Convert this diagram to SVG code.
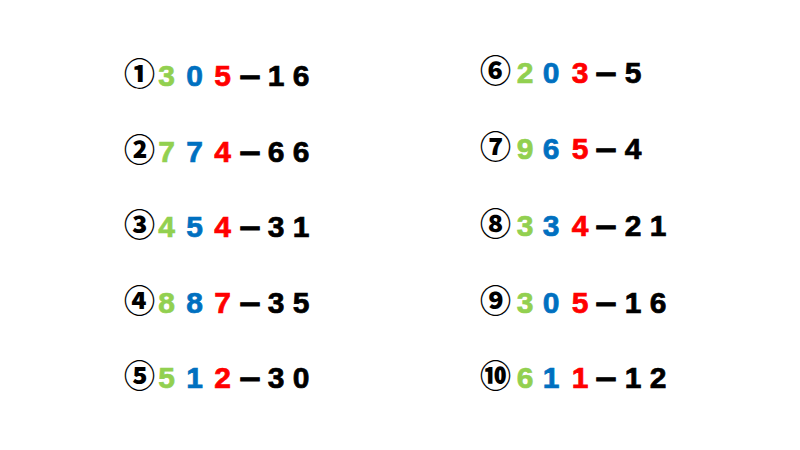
<svg xmlns="http://www.w3.org/2000/svg" width="800" height="450" viewBox="0 0 800 450">
<style>
text{font-family:"Liberation Sans","Noto Sans CJK JP",sans-serif;font-weight:bold;font-size:30px;text-anchor:middle;stroke-width:0.7px}
.c{font-family:"Noto Sans CJK JP",sans-serif;font-weight:900;font-size:31px;fill:#000;stroke:none}
.d{font-family:"Noto Sans CJK JP",sans-serif;font-weight:900;font-size:27px;fill:#000;stroke:#000;stroke-width:0.8px}
.g{fill:#92D050;stroke:#92D050}.b{fill:#0070C0;stroke:#0070C0}.r{fill:#FF0000;stroke:#FF0000}.k{fill:#000;stroke:#000}
</style>
<rect width="800" height="450" fill="#fff"/>
<g id="row1">
<text class="c" x="139.5" y="85">①</text><text class="g" x="166.5" y="86">3</text><text class="b" x="194.5" y="86">0</text><text class="r" x="222.5" y="86">5</text><text class="d" x="250" y="88">－</text><text class="k" x="276" y="86">1</text><text class="k" x="301" y="86">6</text>
</g>
<g id="row2">
<text class="c" x="139.5" y="161">②</text><text class="g" x="166.5" y="162">7</text><text class="b" x="194.5" y="162">7</text><text class="r" x="222.5" y="162">4</text><text class="d" x="250" y="164">－</text><text class="k" x="276" y="162">6</text><text class="k" x="301" y="162">6</text>
</g>
<g id="row3">
<text class="c" x="139.5" y="236">③</text><text class="g" x="166.5" y="237">4</text><text class="b" x="194.5" y="237">5</text><text class="r" x="222.5" y="237">4</text><text class="d" x="250" y="239">－</text><text class="k" x="276" y="237">3</text><text class="k" x="301" y="237">1</text>
</g>
<g id="row4">
<text class="c" x="139.5" y="312">④</text><text class="g" x="166.5" y="313">8</text><text class="b" x="194.5" y="313">8</text><text class="r" x="222.5" y="313">7</text><text class="d" x="250" y="315">－</text><text class="k" x="276" y="313">3</text><text class="k" x="301" y="313">5</text>
</g>
<g id="row5">
<text class="c" x="139.5" y="387">⑤</text><text class="g" x="166.5" y="388">5</text><text class="b" x="194.5" y="388">1</text><text class="r" x="222.5" y="388">2</text><text class="d" x="250" y="390">－</text><text class="k" x="276" y="388">3</text><text class="k" x="301" y="388">0</text>
</g>
<g id="row6">
<text class="c" x="495.5" y="82">⑥</text><text class="g" x="525" y="83">2</text><text class="b" x="551" y="83">0</text><text class="r" x="580" y="83">3</text><text class="d" x="606" y="85">－</text><text class="k" x="633" y="83">5</text>
</g>
<g id="row7">
<text class="c" x="495.5" y="158">⑦</text><text class="g" x="525" y="159">9</text><text class="b" x="551" y="159">6</text><text class="r" x="580" y="159">5</text><text class="d" x="606" y="161">－</text><text class="k" x="633" y="159">4</text>
</g>
<g id="row8">
<text class="c" x="495.5" y="235">⑧</text><text class="g" x="525" y="236">3</text><text class="b" x="551" y="236">3</text><text class="r" x="580" y="236">4</text><text class="d" x="606" y="238">－</text><text class="k" x="633" y="236">2</text><text class="k" x="658" y="236">1</text>
</g>
<g id="row9">
<text class="c" x="495.5" y="312">⑨</text><text class="g" x="525" y="313">3</text><text class="b" x="551" y="313">0</text><text class="r" x="580" y="313">5</text><text class="d" x="606" y="315">－</text><text class="k" x="633" y="313">1</text><text class="k" x="658" y="313">6</text>
</g>
<g id="row10">
<text class="c" x="495.5" y="387">⑩</text><text class="g" x="525" y="388">6</text><text class="b" x="551" y="388">1</text><text class="r" x="580" y="388">1</text><text class="d" x="606" y="390">－</text><text class="k" x="633" y="388">1</text><text class="k" x="658" y="388">2</text>
</g>
</svg>
